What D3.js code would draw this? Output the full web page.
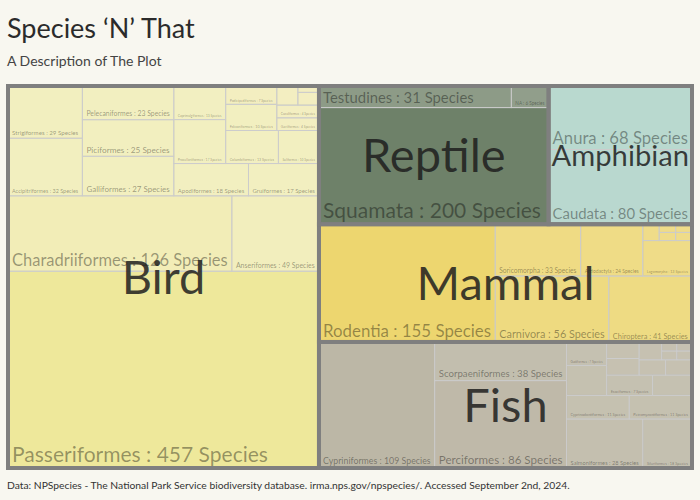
<!DOCTYPE html>
<html><head><meta charset="utf-8">
<script src="https://cdn.jsdelivr.net/npm/d3@7"></script>
<style>
html,body{margin:0;padding:0;background:#f8f7f0;}
svg{display:block;font-family:Lato,"Open Sans",sans-serif;}
</style></head>
<body><svg id="chart" width="700" height="500"></svg>
<script>
// ---- data ----
const groupNames = ["Bird", "Reptile", "Amphibian", "Mammal", "Fish"];

const birdOrders = ["Passeriformes","Charadriiformes","Anseriformes","Accipitriformes","Strigiformes","Galliformes","Piciformes","Pelecaniformes","Apodiformes","Gruiformes","Procellariiformes","Caprimulgiformes","Columbiformes","Suliformes","Falconiformes","Podicipediformes","Gaviiformes","Cuculiformes","Coraciiformes","Cathartiformes","Trogoniformes"];
const birdCounts = [457,126,49,32,29,27,25,23,18,17,17,13,13,10,10,7,4,4,3,2,1];

const reptileOrders = ["Squamata","Testudines","NA"];
const reptileCounts = [200,31,6];

const amphibianOrders = ["Caudata","Anura"];
const amphibianCounts = [80,68];

const mammalOrders = ["Rodentia","Carnivora","Chiroptera","Soricomorpha","Artiodactyla","Lagomorpha","Cetacea","Didelphimorphia","Cingulata","Sirenia","Perissodactyla"];
const mammalCounts = [155,56,41,33,24,13,2,1,1,1,1];

const fishOrders = ["Cypriniformes","Perciformes","Scorpaeniformes","Salmoniformes","Siluriformes","Cyprinodontiformes","Petromyzontiformes","Clupeiformes","Gadiformes","Esociformes","Atheriniformes","Lepisosteiformes","Acipenseriformes","Osmeriformes","Mugiliformes","Pleuronectiformes","Amiiformes","Anguilliformes","Hiodontiformes","Beloniformes"];
const fishCounts = [109,86,38,28,18,11,11,9,7,7,6,4,4,3,3,3,1,1,1,1];

const titleText = "Species \u2018N\u2019 That";
const subtitleText = "A Description of The Plot";
const captionText = "Data:  NPSpecies - The National Park Service biodiversity database. irma.nps.gov/npspecies/. Accessed September 2nd, 2024.";

// ---- styles ----
const groupColors = {Bird:"#eee89b", Reptile:"#3f583b", Amphibian:"#92c6ba", Mammal:"#e8c737", Fish:"#9d967f"};
const bg = "#f8f7f0";

const orderLists = [birdOrders, reptileOrders, amphibianOrders, mammalOrders, fishOrders];
const countLists = [birdCounts, reptileCounts, amphibianCounts, mammalCounts, fishCounts];

const rootData = {name:"root", children: groupNames.map((g,i)=>({
  name:g, children: orderLists[i].map((o,j)=>({name:o, value: countLists[i][j]}))
}))};

const root = d3.hierarchy(rootData).sum(d=>d.value||0).sort((a,b)=>b.value-a.value);
d3.treemap().size([1,1]).tile(d3.treemapSquarify.ratio(1))(root);

const x = d3.scaleLinear().domain([0,1]).range([8,692]);
const y = d3.scaleLinear().domain([0,1]).range([468,86]);
const maxCount = d3.max(countLists.flat());
const alpha = d3.scaleLinear().domain([0,maxCount]).range([0.55,1]);

const svg = d3.select("#chart");
svg.append("rect").attr("width",700).attr("height",500).attr("fill",bg);

// measurement helper
const meas = svg.append("text").attr("font-size",100).attr("visibility","hidden");
function textLen(s){ meas.text(s); return meas.node().getComputedTextLength()/100; }

const leaves = root.leaves();
const box = d => ({x0:x(d.x0), x1:x(d.x1), y0:y(d.y1), y1:y(d.y0)});

const gLeaf = svg.append("g");
leaves.forEach(d=>{
  const b = box(d);
  gLeaf.append("rect").attr("x",b.x0).attr("y",b.y0)
    .attr("width",b.x1-b.x0).attr("height",b.y1-b.y0)
    .attr("fill",groupColors[d.parent.data.name]).attr("fill-opacity",alpha(d.value))
    .attr("stroke","#cccccc").attr("stroke-width",1);
});

// group borders
svg.append("g").selectAll("rect").data(root.children).join("rect")
  .attr("x",d=>box(d).x0).attr("y",d=>box(d).y0)
  .attr("width",d=>box(d).x1-box(d).x0).attr("height",d=>box(d).y1-box(d).y0)
  .attr("fill","none").attr("stroke","#7f7f7f").attr("stroke-width",4);

// subgroup labels
const gSub = svg.append("g");
leaves.forEach(d=>{
  const b = box(d); const w=b.x1-b.x0, h=b.y1-b.y0;
  const s = `${d.data.name} : ${d.value} Species`;
  const L = textLen(s);
  let size = Math.min(21, (w-8)/L, (h-3)*0.8);
  if (size < 3) return;
  gSub.append("text").attr("x",b.x0+4).attr("y",b.y1-2-0.2*size)
    .attr("font-size",size).attr("fill","#000").attr("fill-opacity",0.38).text(s);
});

// group labels
const gGrp = svg.append("g");
root.children.forEach(d=>{
  const b = box(d); const w=b.x1-b.x0, h=b.y1-b.y0;
  const L = textLen(d.data.name);
  const size = Math.min(47, (w-6)/L, h*0.6);
  gGrp.append("text").attr("x",(b.x0+b.x1)/2).attr("y",(b.y0+b.y1)/2+size*0.36)
    .attr("text-anchor","middle").attr("font-size",size)
    .attr("fill","#1e1e1e").attr("fill-opacity",0.85).text(d.data.name);
});

// titles
svg.append("text").attr("x",7).attr("y",38).attr("font-size",27).attr("fill","#2b2b2b").text(titleText);
svg.append("text").attr("x",7).attr("y",66).attr("font-size",14).attr("fill","#444").text(subtitleText);
svg.append("text").attr("x",7).attr("y",489).attr("font-size",10.3).attr("fill","#333").text(captionText);
meas.remove();
</script></body></html>
